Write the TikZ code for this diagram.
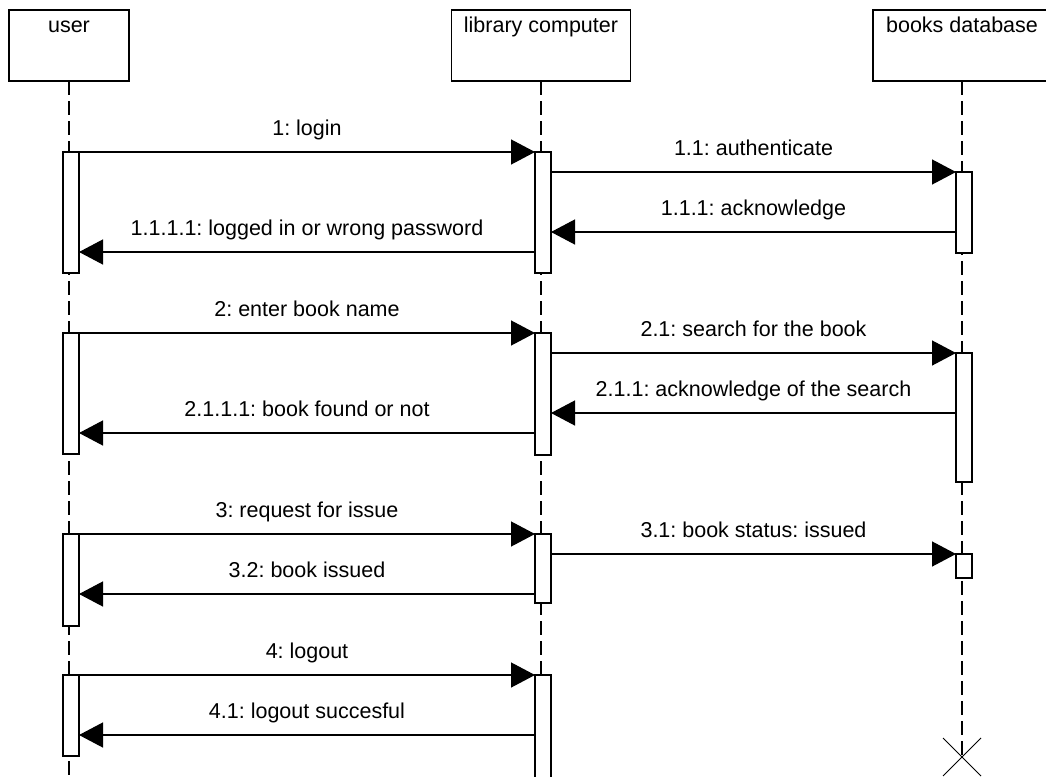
\documentclass[tikz,border=0pt]{standalone}
\usepackage{fontspec}
\setmainfont{Liberation Sans}
\usetikzlibrary{arrows.meta}
\frenchspacing
\begin{document}
\begin{tikzpicture}[x=1pt,y=-1pt,
  every node/.style={font=\fontsize{21.5}{26}\selectfont},
  actor/.style={draw, line width=1.3pt, fill=white, minimum height=71pt,
    inner sep=0pt, outer sep=0pt, anchor=north},
  title/.style={anchor=base, inner sep=0pt},
  life/.style={line width=1.3pt, dash pattern=on 14pt off 6pt},
  actbar/.style={draw, line width=1.3pt, fill=white, minimum width=16pt,
    inner sep=0pt, outer sep=0pt, anchor=north},
  msg/.style={line width=1.3pt, -{Triangle[length=24pt,width=25pt]}},
  lbl/.style={anchor=base, inner sep=0pt, yshift=17pt}
]
\clip (0,0) rectangle (1046,776);
\fill[white] (0,0) rectangle (1046,776);

% participants
\node[actor, minimum width=120pt] (user) at (69,10) {};
\node[actor, minimum width=179pt] (lib) at (541,10) {};
\node[actor, minimum width=178pt] (db) at (962,10) {};
\node[title] (userT) at (69,33) {user};
\node[title] (libT) at (541,33) {library computer};
\node[title] (dbT) at (962,33) {books database};

% lifelines
\coordinate (uEnd) at (69,776);
\coordinate (lEnd) at (541,776);
\coordinate (dEnd) at (962,757);
\draw[life] (user.south) -- (uEnd);
\draw[life] (lib.south) -- (lEnd);
\draw[life] (db.south) -- (dEnd);
\draw[line width=0.9pt] (dEnd) +(-19,-19) -- +(19,19)
                        (dEnd) +(-19,19) -- +(19,-19);

% activation bars
\node[actbar, minimum height=121pt] (u1) at (71,152) {};
\node[actbar, minimum height=121pt] (u2) at (71,333) {};
\node[actbar, minimum height=92pt]  (u3) at (71,534) {};
\node[actbar, minimum height=81pt]  (u4) at (71,675) {};
\node[actbar, minimum height=121pt] (l1) at (543,152) {};
\node[actbar, minimum height=122pt] (l2) at (543,333) {};
\node[actbar, minimum height=69pt]  (l3) at (543,534) {};
\node[actbar, minimum height=120pt] (l4) at (543,675) {};
\node[actbar, minimum height=81pt]  (d1) at (964,172) {};
\node[actbar, minimum height=129pt] (d2) at (964,353) {};
\node[actbar, minimum height=24pt]  (d3) at (964,554) {};

% message rows
\coordinate (m1) at (0,152);  \coordinate (m2) at (0,172);
\coordinate (m3) at (0,232);  \coordinate (m4) at (0,252);
\coordinate (m5) at (0,333);  \coordinate (m6) at (0,353);
\coordinate (m7) at (0,413);  \coordinate (m8) at (0,433);
\coordinate (m9) at (0,534);  \coordinate (m10) at (0,554);
\coordinate (m11) at (0,594); \coordinate (m12) at (0,675);
\coordinate (m13) at (0,735);

% messages
\draw[msg] (u1.east |- m1) -- (l1.west |- m1) node[lbl, midway] {1: login};
\draw[msg] (l1.east |- m2) -- (d1.west |- m2) node[lbl, midway] {1.1: authenticate};
\draw[msg] (d1.west |- m3) -- (l1.east |- m3) node[lbl, midway] {1.1.1: acknowledge};
\draw[msg] (l1.west |- m4) -- (u1.east |- m4) node[lbl, midway] {1.1.1.1: logged in or wrong password};

\draw[msg] (u2.east |- m5) -- (l2.west |- m5) node[lbl, midway] {2: enter book name};
\draw[msg] (l2.east |- m6) -- (d2.west |- m6) node[lbl, midway] {2.1: search for the book};
\draw[msg] (d2.west |- m7) -- (l2.east |- m7) node[lbl, midway] {2.1.1: acknowledge of the search};
\draw[msg] (l2.west |- m8) -- (u2.east |- m8) node[lbl, midway] {2.1.1.1: book found or not};

\draw[msg] (u3.east |- m9) -- (l3.west |- m9) node[lbl, midway] {3: request for issue};
\draw[msg] (l3.east |- m10) -- (d3.west |- m10) node[lbl, midway] {3.1: book status: issued};
\draw[msg] (l3.west |- m11) -- (u3.east |- m11) node[lbl, midway] {3.2: book issued};

\draw[msg] (u4.east |- m12) -- (l4.west |- m12) node[lbl, midway] {4: logout};
\draw[msg] (l4.west |- m13) -- (u4.east |- m13) node[lbl, midway] {4.1: logout succesful};
\end{tikzpicture}
\end{document}
